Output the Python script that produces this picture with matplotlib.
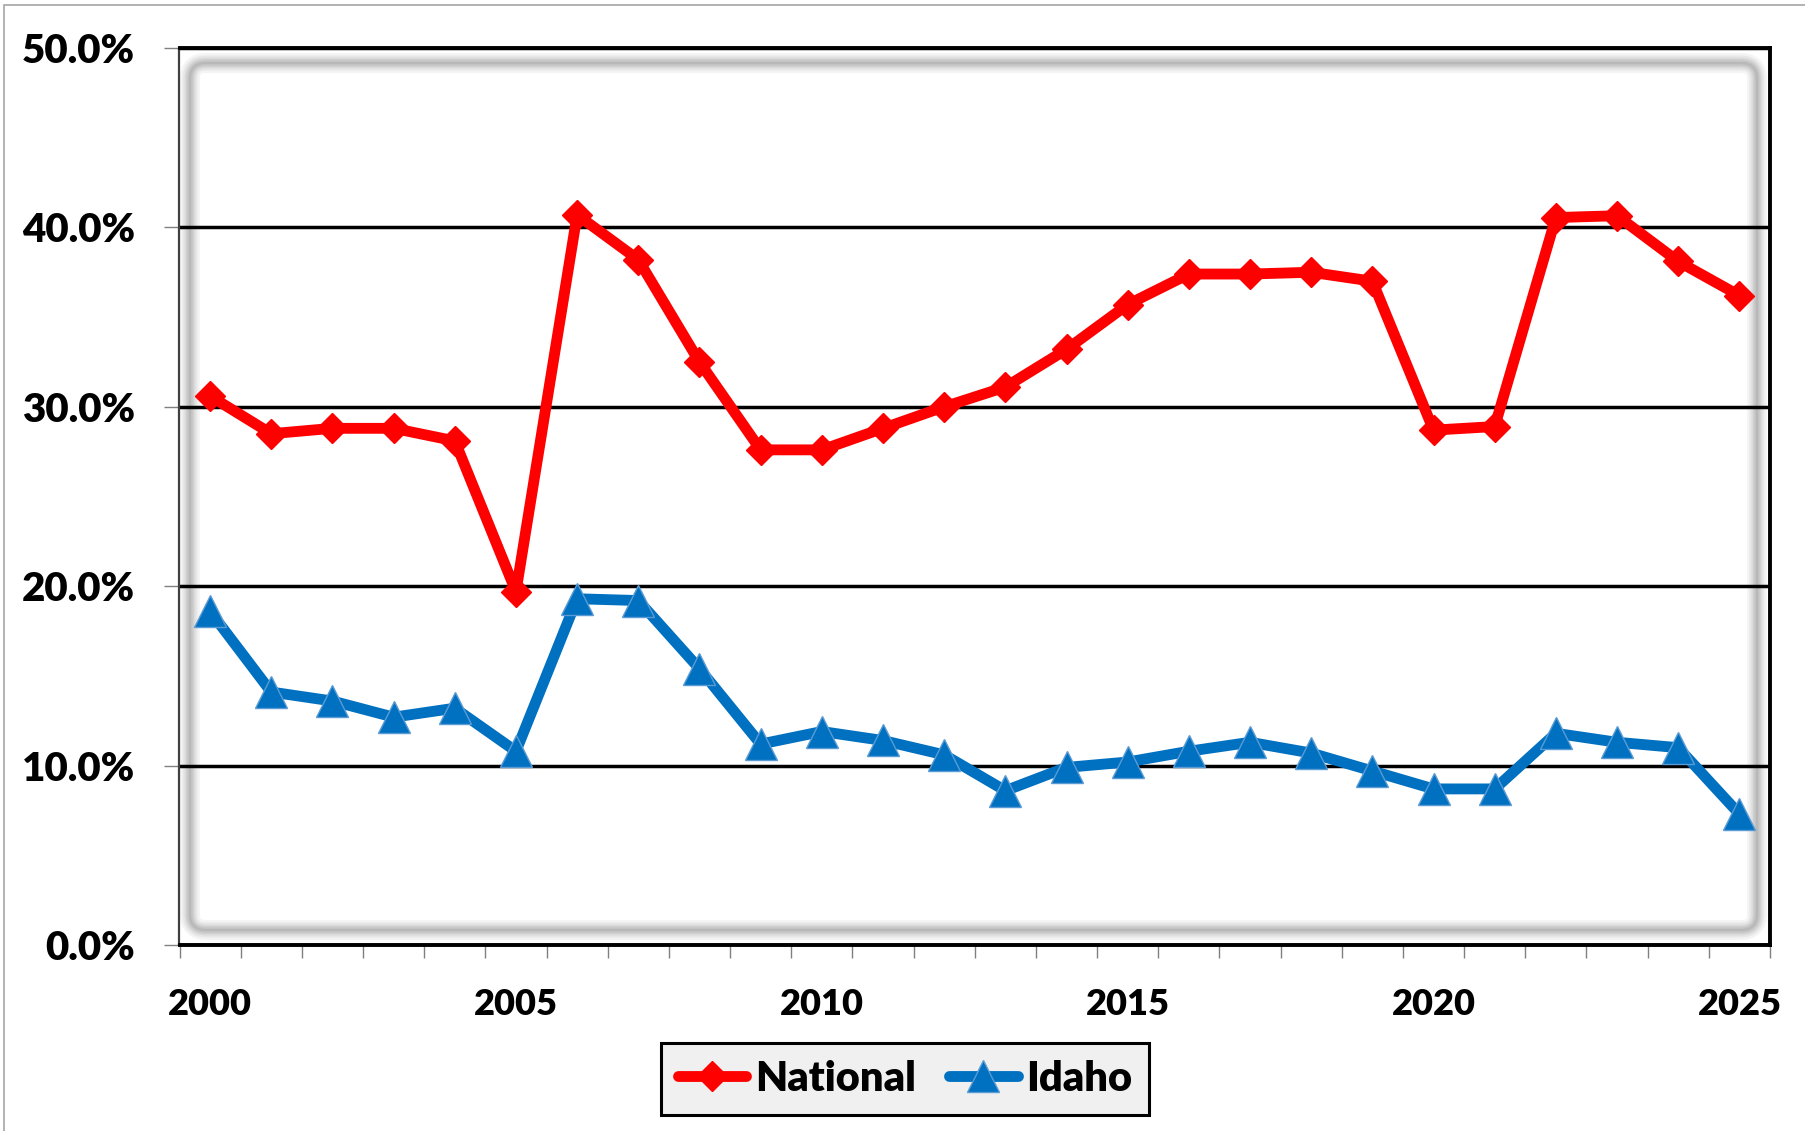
import matplotlib
matplotlib.use('Agg')
import matplotlib.pyplot as plt
import numpy as np
from matplotlib.patches import FancyBboxPatch, Rectangle
from matplotlib.ticker import PercentFormatter, FixedLocator
from matplotlib.transforms import IdentityTransform

# Data (percent)
years = list(range(2000, 2026))
national = [30.6, 28.5, 28.8, 28.8, 28.1, 19.7, 40.7, 38.2, 32.5, 27.6,
            27.6, 28.8, 30.0, 31.1, 33.2, 35.7, 37.4, 37.4, 37.5, 37.0,
            28.7, 28.9, 40.55, 40.65, 38.1, 36.2]
idaho = [18.6, 14.1, 13.6, 12.7, 13.2, 10.8, 19.3, 19.2, 15.4, 11.2,
         11.9, 11.4, 10.6, 8.6, 9.9, 10.2, 10.8, 11.3, 10.7, 9.7,
         8.7, 8.7, 11.8, 11.3, 11.0, 7.3]
year_labels = [2000, 2005, 2010, 2015, 2020, 2025]
pct_ticks = [0, 10, 20, 30, 40, 50]

W, H = 1806, 1131


def add_inner_shadow(fig):
    # soft grey rounded frame just inside the plot area (Excel style)
    x0, x1 = 190, 1757
    y0, y1 = H - 930, H - 63
    for lw_px, alpha in [(20, 0.08), (15, 0.10), (11, 0.11), (8, 0.12), (5, 0.14), (2, 0.14)]:
        box = FancyBboxPatch((x0, y0), x1 - x0, y1 - y0,
                             boxstyle="round,pad=0,rounding_size=16",
                             transform=IdentityTransform(),
                             facecolor='none', edgecolor='#7a7a7a',
                             linewidth=lw_px * 0.72, alpha=alpha, zorder=-1)
        fig.add_artist(box)


def main():
    plt.rcParams['font.family'] = ['Lato', 'DejaVu Sans']
    plt.rcParams['font.weight'] = 'heavy'

    fig = plt.figure(figsize=(W / 100, H / 100), dpi=100)
    fig.patch.set_facecolor('white')

    # outer chart border (partially cropped in the original)
    fig.add_artist(Rectangle((3.5, -20), 2200, H - 5 + 20, transform=IdentityTransform(),
                             facecolor='none', edgecolor='#A6A6A6', linewidth=1.2, zorder=-2))

    ax = fig.add_axes([179.5 / W, (H - 945) / H, (1770 - 179.5) / W, (945 - 48) / H])
    ax.patch.set_visible(False)
    add_inner_shadow(fig)

    ax.plot(years, national, color='#FF0000', linewidth=7.8, marker='D', markersize=15.5,
            markeredgecolor='#FF0000', solid_joinstyle='round', solid_capstyle='round',
            label='National', zorder=4)
    ax.plot(years, idaho, color='#0070C0', linewidth=7.8, marker='^', markersize=22.5,
            markeredgecolor='#5B9BD5', markeredgewidth=1.0, solid_joinstyle='round',
            solid_capstyle='round', label='Idaho', zorder=3)

    ax.set_xlim(1999.5, 2025.5)
    ax.set_ylim(0, 50)

    ax.set_yticks(pct_ticks)
    ax.yaxis.set_major_formatter(PercentFormatter(xmax=100, decimals=1))
    ax.tick_params(axis='y', which='major', length=11, width=1, color='#808080',
                   pad=21, labelsize=29)

    ax.set_xticks(year_labels)
    ax.set_xticklabels([str(y) for y in year_labels])
    ax.xaxis.set_minor_locator(FixedLocator(np.arange(1999.5, 2026, 1)))
    ax.tick_params(axis='x', which='major', length=0, pad=31, labelsize=26)
    ax.tick_params(axis='x', which='minor', length=9, width=1, color='#808080')

    ax.yaxis.grid(True, color='black', linewidth=2.5, zorder=1)
    ax.set_axisbelow(True)

    for side in ['top', 'right', 'bottom']:
        ax.spines[side].set_color('black')
        ax.spines[side].set_linewidth(2.8)
    ax.spines['left'].set_color('#404040')
    ax.spines['left'].set_linewidth(1.6)

    leg = ax.legend(loc='center', bbox_to_anchor=(0.501, 0.046), bbox_transform=fig.transFigure,
                    ncol=2, fontsize=30, frameon=True, fancybox=False, numpoints=1,
                    handlelength=1.65, handletextpad=0.2, columnspacing=0.8,
                    borderpad=0.4, borderaxespad=0)
    leg.get_frame().set_facecolor('#F0F0F0')
    leg.get_frame().set_edgecolor('black')
    leg.get_frame().set_linewidth(2.2)
    leg.get_frame().set_alpha(1)

    fig.savefig('out.png', dpi=100, facecolor='white')


if __name__ == '__main__':
    main()
